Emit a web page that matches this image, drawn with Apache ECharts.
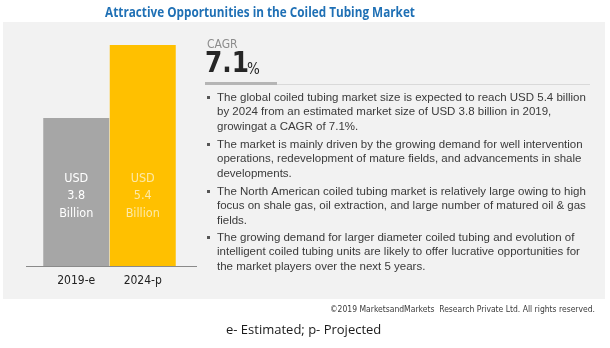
<!DOCTYPE html>
<html><head><meta charset="utf-8">
<script src="https://cdn.jsdelivr.net/npm/echarts@6/dist/echarts.min.js"></script>
<style>html,body{margin:0;padding:0;background:#fff}#c{width:610px;height:348px}</style>
</head><body><div id="c"></div>
<script>
var categories = ['2019-e', '2024-p'];
var values = [3.8, 5.4];
var barLabels = ['USD\n3.8\nBillion', 'USD\n5.4\nBillion'];
var title = 'Attractive Opportunities in the Coiled Tubing Market';
var cagr = '7.1';
var bullets = [
  ['The global coiled tubing market size is expected to reach USD 5.4 billion',
   'by 2024 from an estimated market size of USD 3.8 billion in 2019,',
   'growingat a CAGR of 7.1%.'],
  ['The market is mainly driven by the growing demand for well intervention',
   'operations, redevelopment of mature fields, and advancements in shale',
   'developments.'],
  ['The North American coiled tubing market is relatively large owing to high',
   'focus on shale gas, oil extraction, and large number of matured oil & gas',
   'fields.'],
  ['The growing demand for larger diameter coiled tubing and evolution of',
   'intelligent coiled tubing units are likely to offer lucrative opportunities for',
   'the market players over the next 5 years.']
];
var copyright = '\u00a92019 MarketsandMarkets  Research Private Ltd. All rights reserved.';
var footnote = 'e- Estimated; p- Projected';

var barColors = ['#a6a6a6', '#ffc000'];
var labelColors = ['#ffffff', '#fde9a6'];
var condensed = '"Liberation Sans Narrow","DejaVu Sans Condensed","Roboto",sans-serif';
var bodyFont = '"Liberation Sans",Arial,sans-serif';

var graphics = [
  {type:'rect', z:-10, shape:{x:3,y:22,width:602,height:277}, style:{fill:'#f2f2f2'}},
  {type:'line', shape:{x1:26,y1:266.5,x2:197,y2:266.5}, style:{stroke:'#8a8a8a', lineWidth:1}},
  {type:'text', x:207, y:39, style:{text:'CAGR', fill:'#8c8c8c', font:'12px '+condensed}},
  {type:'text', x:205, y:50, scaleX:0.95, style:{text:cagr, fill:'#262626', font:'bold 29px '+condensed}},
  {type:'text', x:247, y:63, style:{text:'%', fill:'#262626', font:'15px '+condensed}},
  {type:'rect', shape:{x:205,y:82,width:72,height:3}, style:{fill:'#b5b5b5'}},
  {type:'rect', shape:{x:277,y:84,width:313,height:1}, style:{fill:'#d9d9d9'}},
  {type:'text', right:15, top:305, style:{text:copyright, fill:'#3a3a3a', font:'8.5px '+condensed}},
  {type:'text', x:226, y:324, style:{text:footnote, fill:'#1a1a1a', font:'13px "Open Sans","Liberation Sans",sans-serif'}}
];
var starts = [93, 140, 187, 233];
var lineGap = 14.3;
bullets.forEach(function(lines, i){
  graphics.push({type:'rect', shape:{x:207, y:starts[i]+3, width:3, height:3}, style:{fill:'#555'}});
  lines.forEach(function(t, j){
    graphics.push({type:'text', x:217, y:starts[i]+j*lineGap - 1, style:{text:t, fill:'#3a3a3a', font:'11.5px '+bodyFont}});
  });
});
graphics.push({type:'text', x:260, y:5, scaleX:0.81, style:{text:title, textAlign:'center', fill:'#1f70b5', font:'bold 14.5px "Open Sans",sans-serif'}});

var chart = echarts.init(document.getElementById('c'));
chart.setOption({
  animation:false,
  backgroundColor:'#ffffff',
  grid:{left:43, top:45, width:133, height:221},
  xAxis:{type:'category', data:categories, axisLine:{show:false}, axisTick:{show:false},
    axisLabel:{color:'#222', fontSize:12, fontFamily:condensed, margin:9}},
  yAxis:{type:'value', min:0.55, max:5.4, show:false, splitLine:{show:false}},
  series:[{type:'bar', barCategoryGap:'0%', barWidth:66,
    data:values.map(function(v,i){return {value:v, itemStyle:{color:barColors[i]},
      label:{color:labelColors[i], formatter:barLabels[i]}};}),
    label:{show:true, position:'insideBottom', distance:44, fontSize:12.5, lineHeight:17.5, fontFamily:condensed}
  }],
  graphic:graphics
});
</script></body></html>
